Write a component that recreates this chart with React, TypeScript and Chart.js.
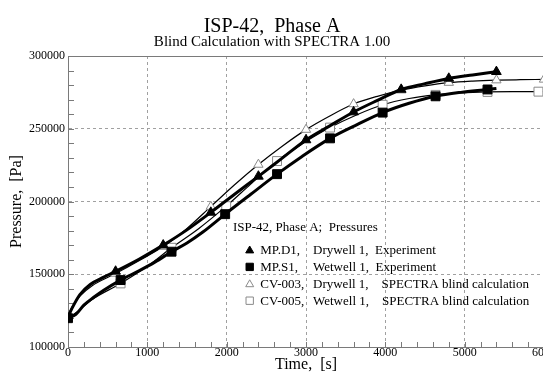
import React, { useEffect, useRef } from "react";
import { Chart, registerables } from "chart.js";

Chart.register(...registerables);

const FONT = "'Liberation Serif', 'Times New Roman', Times, serif";

const TITLE = "ISP-42,  Phase A";
const SUBTITLE = "Blind Calculation with SPECTRA 1.00";
const X_TITLE = "Time,  [s]";
const Y_TITLE = "Pressure,  [Pa]";
const LEGEND_TITLE = "ISP-42, Phase A;  Pressures";

const X_MIN = 0;
const X_MAX = 6000;
const X_STEP = 1000;
const X_MINOR = 200;
const Y_MIN = 100000;
const Y_MAX = 300000;
const Y_STEP = 50000;
const Y_MINOR = 10000;

const seriesLabels = [
  "MP.D1,  Drywell 1,  Experiment",
  "MP.S1,  Wetwell 1,  Experiment",
  "CV-003,  Drywell 1,    SPECTRA blind calculation",
  "CV-005,  Wetwell 1,    SPECTRA blind calculation",
];

// MP.D1 Drywell experiment
const mpd1Time = [0, 50, 150, 280, 450, 600, 900, 1200, 1500, 1800, 2100, 2400, 2700, 3000, 3300, 3600, 3900, 4200, 4500, 4800, 5100, 5400];
const mpd1Pressure = [120500, 126500, 136000, 143000, 148000, 152000, 160500, 170000, 180500, 192500, 205000, 217300, 229800, 242300, 252000, 261500, 269500, 277000, 281000, 284600, 287000, 289200];
const mpd1Markers = [600, 1200, 1800, 2400, 3000, 3600, 4200, 4800, 5400];

// MP.S1 Wetwell experiment
const mps1Time = [0, 100, 200, 320, 450, 663, 900, 1100, 1305, 1500, 1700, 1981, 2300, 2635, 2950, 3303, 3650, 3966, 4300, 4633, 4950, 5288, 5400];
const mps1Pressure = [119800, 122500, 128800, 134000, 139000, 146000, 152500, 158500, 165500, 171500, 179000, 191300, 204800, 218800, 231000, 243400, 253000, 261100, 267500, 272300, 275000, 277000, 277700];
const mps1Markers = [0, 663, 1305, 1981, 2635, 3303, 3966, 4633, 5288];

// CV-003 Drywell SPECTRA
const cv003Time = [0, 50, 150, 300, 600, 900, 1200, 1500, 1800, 2100, 2400, 2700, 3000, 3300, 3600, 3900, 4200, 4500, 4800, 5100, 5400, 5700, 6000];
const cv003Pressure = [122000, 127500, 135000, 142000, 150500, 159500, 169000, 181500, 196500, 211500, 225400, 238000, 249400, 258800, 267000, 272300, 276500, 279500, 281700, 282800, 283400, 283700, 283900];
const cv003Markers = [600, 1200, 1800, 2400, 3000, 3600, 4200, 4800, 5400, 6000];

// CV-005 Wetwell SPECTRA
const cv005Time = [0, 100, 300, 663, 1000, 1305, 1650, 1994, 2300, 2635, 2950, 3303, 3650, 3966, 4300, 4633, 4950, 5288, 5600, 5930, 6000];
const cv005Pressure = [120000, 123500, 132500, 143700, 155500, 168200, 181500, 196800, 211800, 227800, 239500, 250800, 259800, 266500, 270800, 273300, 274600, 275300, 275500, 275500, 275500];
const cv005Markers = [663, 1305, 1994, 2635, 3303, 3966, 4633, 5288, 5930];

const AXIS_COLOR = "#7a7a7a";
const GRID_COLOR = "#a0a0a0";
const OPEN_MARK = "#8a8a8a";

function toPoints(t: number[], p: number[]) {
  return t.map((x, i) => ({ x, y: p[i] }));
}

function markerRadius(markers: number[], r: number) {
  return (ctx: any) => {
    const raw = ctx.raw;
    if (!raw) return 0;
    return markers.includes(raw.x) ? r : 0;
  };
}

function drawMarker(ctx: CanvasRenderingContext2D, style: string, x: number, y: number, r: number, fill: string, stroke: string) {
  ctx.beginPath();
  if (style === "triangle") {
    let rad = 0;
    ctx.moveTo(x + Math.sin(rad) * r, y - Math.cos(rad) * r);
    rad += (2 * Math.PI) / 3;
    ctx.lineTo(x + Math.sin(rad) * r, y - Math.cos(rad) * r);
    rad += (2 * Math.PI) / 3;
    ctx.lineTo(x + Math.sin(rad) * r, y - Math.cos(rad) * r);
    ctx.closePath();
  } else {
    const s = r * Math.SQRT1_2;
    ctx.rect(x - s, y - s, 2 * s, 2 * s);
  }
  ctx.fillStyle = fill;
  ctx.fill();
  ctx.strokeStyle = stroke;
  ctx.lineWidth = 1;
  ctx.stroke();
}

const framePlugin = {
  id: "frameAndMinor",
  beforeDatasetsDraw(chart: any) {
    const { ctx, chartArea, scales } = chart;
    const xs = scales.x;
    const ys = scales.y;
    ctx.save();
    ctx.strokeStyle = AXIS_COLOR;
    ctx.lineWidth = 1;
    ctx.beginPath();
    ctx.moveTo(chartArea.left, Math.round(chartArea.top) + 0.5);
    ctx.lineTo(chartArea.right, Math.round(chartArea.top) + 0.5);
    ctx.moveTo(Math.round(chartArea.right) + 0.5, chartArea.top);
    ctx.lineTo(Math.round(chartArea.right) + 0.5, chartArea.bottom);
    ctx.stroke();
    ctx.beginPath();
    for (let v = X_MIN; v <= X_MAX; v += X_MINOR) {
      const px = Math.round(xs.getPixelForValue(v)) + 0.5;
      ctx.moveTo(px, chartArea.bottom);
      ctx.lineTo(px, chartArea.bottom - 5);
    }
    for (let v = Y_MIN; v <= Y_MAX; v += Y_MINOR) {
      const py = Math.round(ys.getPixelForValue(v)) + 0.5;
      ctx.moveTo(chartArea.left, py);
      ctx.lineTo(chartArea.left + 6, py);
    }
    ctx.stroke();
    ctx.restore();
  },
};

const legendPlugin = {
  id: "innerLegend",
  afterDatasetsDraw(chart: any) {
    const { ctx, chartArea } = chart;
    const x0 = chartArea.left + 165;
    const y0 = chartArea.top + 175.3;
    ctx.save();
    ctx.font = `13px ${FONT}`;
    ctx.fillStyle = "#000";
    ctx.textBaseline = "alphabetic";
    ctx.textAlign = "left";
    ctx.fillText(LEGEND_TITLE, x0, y0);
    chart.data.datasets.forEach((ds: any, i: number) => {
      const base = y0 + 22.7 + i * 16.9;
      const cy = base - 4;
      const cx = x0 + 16.7;
      const isTri = ds.pointStyle === "triangle";
      drawMarker(ctx, ds.pointStyle, cx, cy + (isTri ? 0.6 : 0), isTri ? 4.6 : 5.2, ds.pointBackgroundColor, ds.pointBorderColor);
      const label: string = ds.label;
      const cut = label.indexOf(",") + 1;
      const head = label.slice(0, cut);
      const tail = label.slice(cut).replace(/^\s+/, "");
      ctx.fillStyle = "#000";
      ctx.fillText(head, x0 + 27.3, base);
      ctx.fillText(tail, x0 + 80, base);
    });
    ctx.restore();
  },
};

export default function App() {
  const ref = useRef<HTMLCanvasElement | null>(null);

  useEffect(() => {
    if (!ref.current) return;
    Chart.defaults.font.family = FONT;
    Chart.defaults.color = "#000";
    const chart = new Chart(ref.current, {
      type: "line",
      data: {
        datasets: [
          {
            label: seriesLabels[0],
            data: toPoints(mpd1Time, mpd1Pressure),
            borderColor: "#000",
            borderWidth: 3,
            pointStyle: "triangle",
            pointBackgroundColor: "#000",
            pointBorderColor: "#000",
            pointBorderWidth: 1,
            pointRadius: markerRadius(mpd1Markers, 5.6),
            cubicInterpolationMode: "monotone",
          },
          {
            label: seriesLabels[1],
            data: toPoints(mps1Time, mps1Pressure),
            borderColor: "#000",
            borderWidth: 3,
            pointStyle: "rect",
            pointBackgroundColor: "#000",
            pointBorderColor: "#000",
            pointBorderWidth: 1,
            pointRadius: markerRadius(mps1Markers, 6.3),
            cubicInterpolationMode: "monotone",
          },
          {
            label: seriesLabels[2],
            data: toPoints(cv003Time, cv003Pressure),
            borderColor: "#000",
            borderWidth: 1.2,
            pointStyle: "triangle",
            pointBackgroundColor: "#fff",
            pointBorderColor: OPEN_MARK,
            pointBorderWidth: 1,
            pointRadius: markerRadius(cv003Markers, 5.4),
            cubicInterpolationMode: "monotone",
          },
          {
            label: seriesLabels[3],
            data: toPoints(cv005Time, cv005Pressure),
            borderColor: "#000",
            borderWidth: 1.2,
            pointStyle: "rect",
            pointBackgroundColor: "#fff",
            pointBorderColor: OPEN_MARK,
            pointBorderWidth: 1,
            pointRadius: markerRadius(cv005Markers, 6.3),
            cubicInterpolationMode: "monotone",
          },
        ],
      },
      options: {
        animation: false,
        responsive: false,
        events: [],
        layout: { padding: { left: 0, right: 48, top: 0, bottom: 0 } },
        plugins: {
          legend: { display: false },
          tooltip: { enabled: false },
          title: {
            display: true,
            text: TITLE,
            color: "#000",
            font: { family: FONT, size: 20, weight: "normal", lineHeight: 0.9 },
            padding: { top: 18, bottom: 0 },
          },
          subtitle: {
            display: true,
            text: SUBTITLE,
            color: "#000",
            font: { family: FONT, size: 15, weight: "normal", lineHeight: 0.8 },
            padding: { top: 0, bottom: 8 },
          },
        },
        scales: {
          x: {
            type: "linear",
            min: X_MIN,
            max: X_MAX,
            afterFit: (s: any) => {
              s.height = 27;
            },
            ticks: {
              stepSize: X_STEP,
              padding: 0,
              maxRotation: 0,
              color: "#000",
              font: { family: FONT, size: 12, lineHeight: 1 },
              callback: (v: any) => String(v),
            },
            grid: {
              color: (c: any) => (c.tick && (c.tick.value === X_MIN || c.tick.value === X_MAX) ? "rgba(0,0,0,0)" : GRID_COLOR),
              lineWidth: 1,
              drawTicks: false,
            },
            border: { display: true, color: AXIS_COLOR, width: 1, dash: [3, 3] },
            title: {
              display: true,
              text: X_TITLE,
              color: "#000",
              font: { family: FONT, size: 16, lineHeight: 1 },
              padding: { top: 0, bottom: 1.5 },
            },
          },
          y: {
            type: "linear",
            min: Y_MIN,
            max: Y_MAX,
            afterFit: (s: any) => {
              s.width = 68;
            },
            ticks: {
              stepSize: Y_STEP,
              padding: 3,
              color: "#000",
              font: { family: FONT, size: 12, lineHeight: 1 },
              callback: (v: any) => String(v),
            },
            grid: {
              color: (c: any) => (c.tick && (c.tick.value === Y_MIN || c.tick.value === Y_MAX) ? "rgba(0,0,0,0)" : GRID_COLOR),
              lineWidth: 1,
              drawTicks: false,
            },
            border: { display: true, color: AXIS_COLOR, width: 1, dash: [3, 3] },
            title: {
              display: true,
              text: Y_TITLE,
              color: "#000",
              font: { family: FONT, size: 16, lineHeight: 1 },
              padding: { top: 9, bottom: 0 },
            },
          },
        },
      },
      plugins: [framePlugin, legendPlugin],
    } as any);
    return () => chart.destroy();
  }, []);

  return (
    <div style={{ position: "absolute", left: 0, top: 0, width: 543, height: 374, overflow: "hidden", background: "#fff" }}>
      <canvas ref={ref} width={592} height={374} style={{ width: 592, height: 374, display: "block" }} />
    </div>
  );
}
